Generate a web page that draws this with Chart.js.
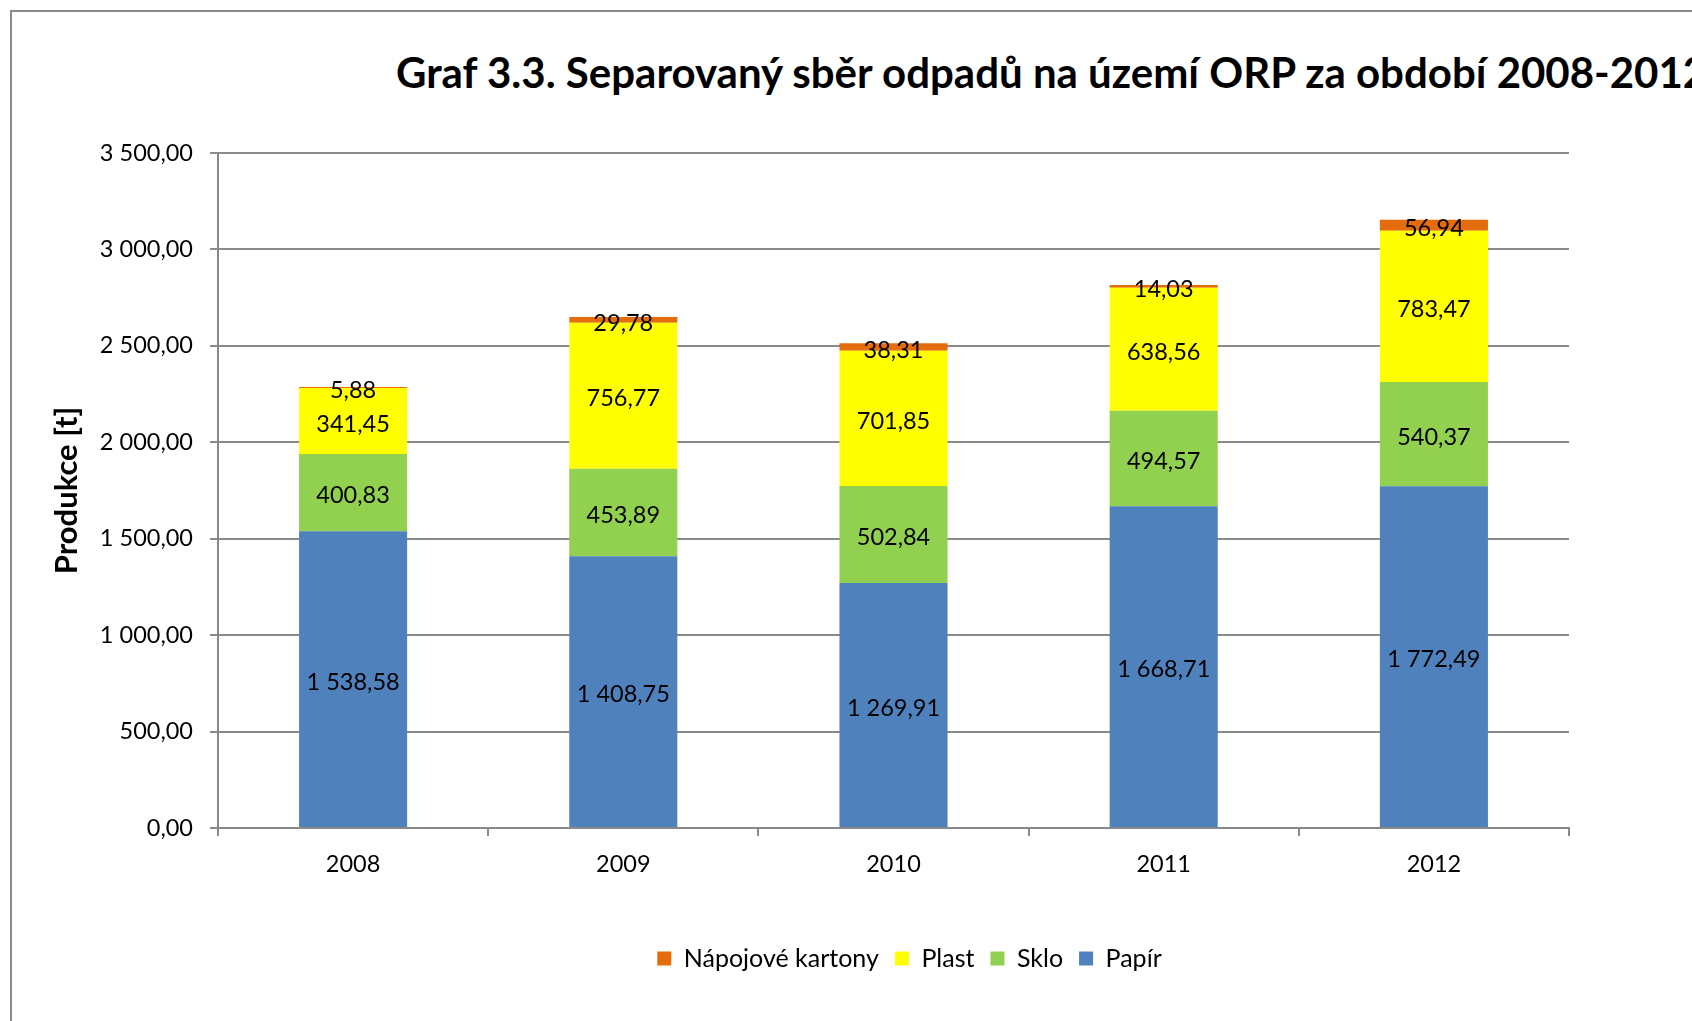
<!DOCTYPE html>
<html lang="cs">
<head>
<meta charset="utf-8">
<title>Graf 3.3</title>
<script src="https://cdn.jsdelivr.net/npm/chart.js@4.4.0/dist/chart.umd.min.js"></script>
<style>
  html, body { margin: 0; padding: 0; background: #fff; overflow: hidden; width: 1692px; height: 1021px; }
  #frame { position: absolute; left: 10px; top: 10px; width: 1800px; height: 1100px;
           border-left: 2px solid #8a8a8a; border-top: 2px solid #8a8a8a; }
  #title { position: absolute; left: 396px; top: 51px; font: bold 42px Lato, sans-serif;
           line-height: 1; white-space: nowrap; color: #000; }
  #wrap { position: absolute; left: 0; top: 0; width: 1692px; height: 1021px; }
</style>
</head>
<body>
<div id="frame"></div>
<div id="title">Graf 3.3. Separovaný sběr odpadů na území ORP za období 2008-2012</div>
<div id="wrap"><canvas id="chart"></canvas></div>
<script>
const years = ['2008', '2009', '2010', '2011', '2012'];
const papir = [1538.58, 1408.75, 1269.91, 1668.71, 1772.49];
const sklo = [400.83, 453.89, 502.84, 494.57, 540.37];
const plast = [341.45, 756.77, 701.85, 638.56, 783.47];
const kartony = [5.88, 29.78, 38.31, 14.03, 56.94];
const yTicks = [0, 500, 1000, 1500, 2000, 2500, 3000, 3500];

// "1538.58" -> "1 538,58"
function fmt(v) {
    const parts = v.toFixed(2).split('.');
    return parts[0].replace(/\B(?=(\d{3})+(?!\d))/g, ' ') + ',' + parts[1];
}

const GRID = '#8a8a8a';
const LEGEND_SHIFT = 105;

// value labels in the middle of every segment
const segmentLabels = {
    id: 'segmentLabels',
    afterDatasetsDraw(chart) {
        const ctx = chart.ctx;
        ctx.save();
        ctx.font = '23.5px Lato';
        ctx.fillStyle = '#000';
        ctx.textAlign = 'center';
        ctx.textBaseline = 'middle';
        chart.data.datasets.forEach((ds, i) => {
            chart.getDatasetMeta(i).data.forEach((bar, j) => {
                ctx.fillText(fmt(ds.data[j]), bar.x, (bar.y + bar.base) / 2 + 3);
            });
        });
        ctx.restore();
    }
};

// legend sits a bit right of the plot centre in the original
const shiftLegend = {
    id: 'shiftLegend',
    afterLayout(chart) {
        chart.legend.left += LEGEND_SHIFT;
        chart.legend.right += LEGEND_SHIFT;
    }
};

Chart.defaults.font.family = 'Lato';
Chart.defaults.color = '#000';

new Chart(document.getElementById('chart'), {
    type: 'bar',
    data: {
        labels: years,
        datasets: [
            { label: 'Papír', data: papir, backgroundColor: '#4f81bd' },
            { label: 'Sklo', data: sklo, backgroundColor: '#92d050' },
            { label: 'Plast', data: plast, backgroundColor: '#ffff00' },
            { label: 'Nápojové kartony', data: kartony, backgroundColor: '#e46c0a' }
        ]
    },
    options: {
        responsive: true,
        maintainAspectRatio: false,
        animation: false,
        categoryPercentage: 1,
        barPercentage: 0.4,
        layout: { padding: { left: 40, right: 123, top: 153, bottom: 40 } },
        plugins: {
            legend: {
                position: 'bottom',
                reverse: true,
                labels: { boxWidth: 14, boxHeight: 14, padding: 16, font: { size: 25 } }
            },
            tooltip: { enabled: false }
        },
        scales: {
            x: {
                stacked: true,
                ticks: { font: { size: 23.5 }, padding: 14 },
                grid: { drawOnChartArea: false, offset: true, tickLength: 8, color: GRID, lineWidth: 2 },
                border: { color: GRID, width: 2 },
                afterFit: s => { s.height = 102; }
            },
            y: {
                stacked: true,
                min: 0,
                max: 3500,
                afterBuildTicks: s => { s.ticks = yTicks.map(v => ({ value: v })); },
                ticks: { callback: v => fmt(v), font: { size: 23.5 }, padding: 17 },
                grid: { color: GRID, lineWidth: 2, tickLength: 8 },
                border: { color: GRID, width: 2 },
                title: { display: true, text: 'Produkce [t]', font: { size: 31, weight: 'bold' }, padding: { top: 8, bottom: 0 } },
                afterFit: s => { s.width = 178; }
            }
        }
    },
    plugins: [segmentLabels, shiftLegend]
});
</script>
</body>
</html>
